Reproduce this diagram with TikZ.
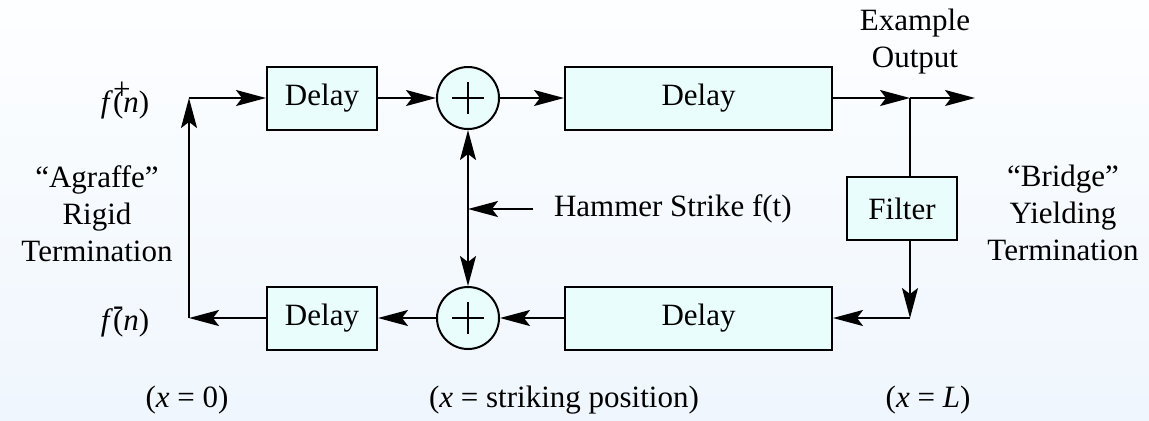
\documentclass[tikz,border=0pt]{standalone}
\usepackage{fontspec}
\setmainfont{Liberation Serif}
\usetikzlibrary{arrows.meta}
\definecolor{boxfill}{RGB}{234,253,253}
\definecolor{bgtop}{RGB}{253,254,255}
\definecolor{bgbot}{RGB}{239,246,253}
\begin{document}
\begin{tikzpicture}[x=0.5pt,y=-0.5pt,
  font=\fontsize{15.5}{18.5}\selectfont,
  >={Stealth[length=15pt,width=8pt,inset=3pt]},
  line width=1pt,
  blk/.style={draw, fill=boxfill, minimum height=31.5pt, inner sep=0},
  sm/.style={blk, minimum width=55pt},
  lg/.style={blk, minimum width=133.5pt},
  sumc/.style={draw, fill=boxfill, circle, minimum size=31pt, inner sep=0,
    path picture={
      \draw[line width=0.7pt] ([xshift=-8pt]path picture bounding box.center) -- ([xshift=8pt]path picture bounding box.center);
      \draw[line width=0.7pt] ([yshift=-8pt]path picture bounding box.center) -- ([yshift=8pt]path picture bounding box.center);
    }},
  lbl/.style={align=center, inner sep=0}]
\useasboundingbox (0,0) rectangle (1149,420);
\shade[top color=bgtop, bottom color=bgbot] (0,0) rectangle (1149,420);

% blocks
\node[sm] (d1) at (322,98) {Delay};
\node[sumc] (s1) at (468,98) {};
\node[lg] (D1) at (698.5,98) {Delay};
\node[sm] (f) at (902,208.5) {Filter};
\node[lg] (D2) at (698.5,318) {Delay};
\node[sumc] (s2) at (468,318) {};
\node[sm] (d2) at (322,318) {Delay};

% junction points
\coordinate (jt) at (910,98);
\coordinate (out) at (975,98);
\coordinate (jb) at (910,318);
\coordinate (lt) at (189,98);
\coordinate (lb) at (189,318);
\coordinate (hj) at (468,209);

% labels
\node[lbl] (fp) at (125,101) {\textit{f}\rlap{\raisebox{0.42em}{+}}(\textit{n})};
\node[lbl] (fm) at (125,322) {\textit{f}\rlap{\raisebox{0.5em}{-}}(\textit{n})};
\node[lbl] (agr) at (97,214) {“Agraffe”\\Rigid\\Termination};
\node[lbl] (brg) at (1063,213) {“Bridge”\\Yielding\\Termination};
\node[lbl] (exo) at (915,42) {Example\\Output};
\node[lbl, anchor=west] (hammer) at (553,209) {Hammer Strike f(t)};
\node[lbl] (x0) at (187,400) {(\textit{x} = 0)};
\node[lbl] (xs) at (564,400) {(\textit{x} = striking position)};
\node[lbl] (xl) at (928,400) {(\textit{x} = \textit{L})};

% connectors
\draw[->] (lt) -- (d1);
\draw[->] (d1) -- (s1);
\draw[->] (s1) -- (D1);
\draw[->] (D1) -- (jt);
\draw[->] (jt) -- (out);
\draw (jt) -- (jt |- f.north);
\draw[->] (jt |- f.south) -- (jb);
\draw[->] (jb) -- (D2);
\draw[->] (D2) -- (s2);
\draw[->] (s2) -- (d2);
\draw[->] (d2) -- (lb);
\draw[->] (lb) -- (lt);
\draw[<->] (s1) -- (s2);
\draw[->, shorten <=10pt] (hammer.west) -- (hj);
\end{tikzpicture}
\end{document}
